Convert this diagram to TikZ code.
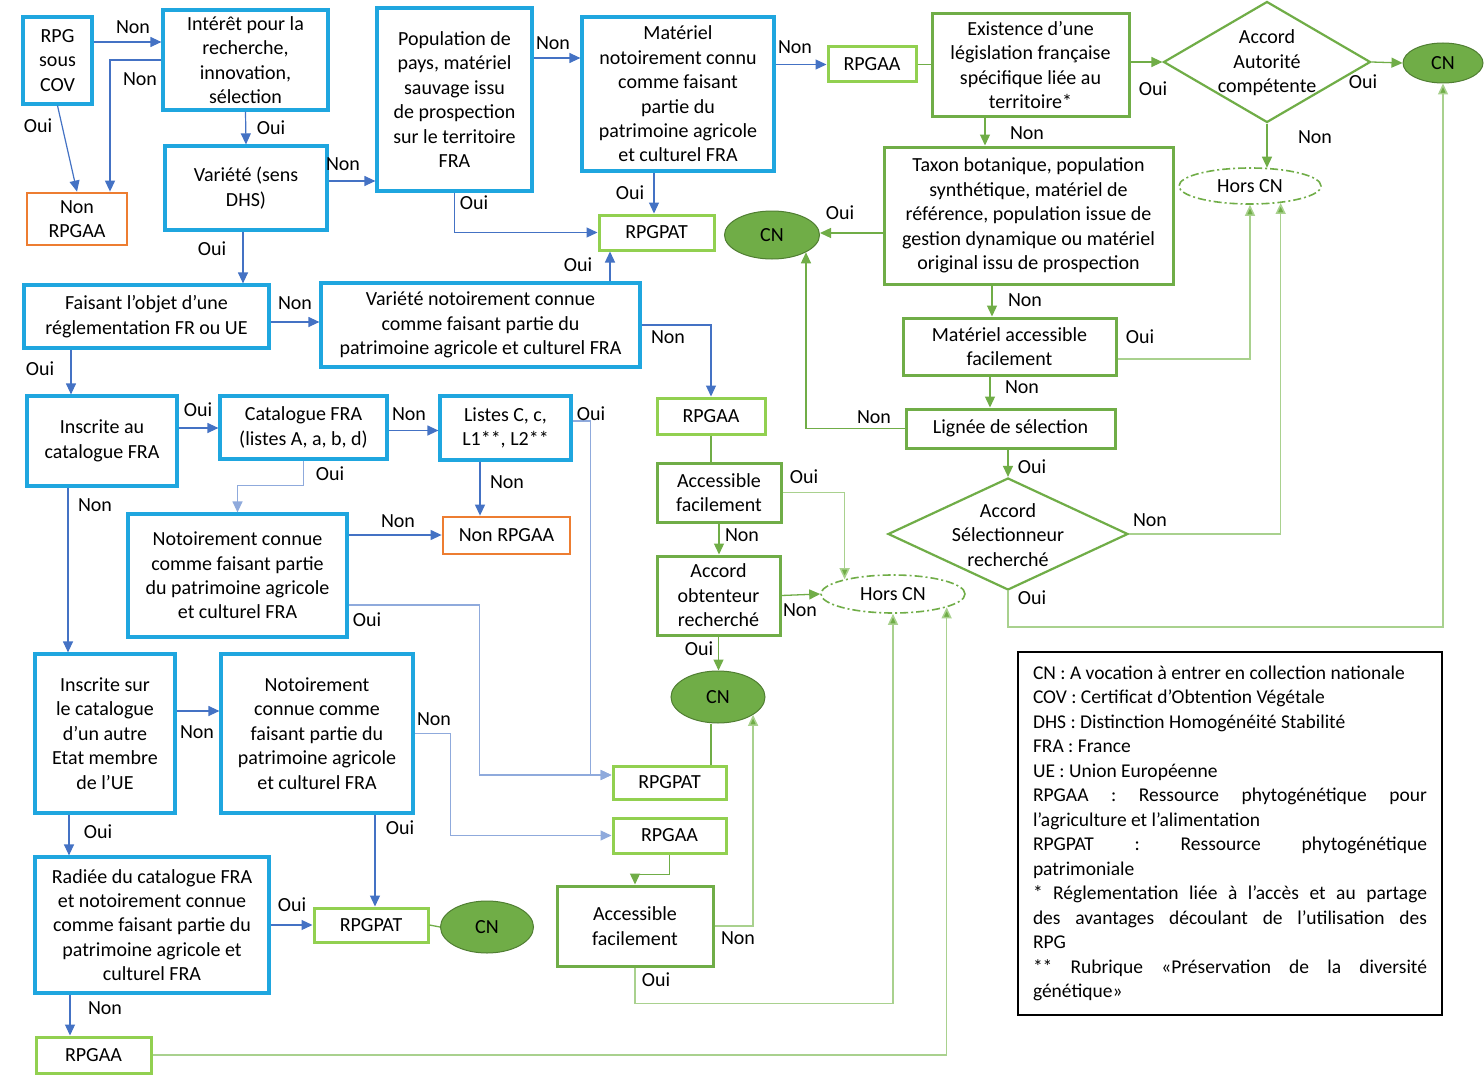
\documentclass[tikz,border=0pt]{standalone}
\usepackage{fontspec}
\setmainfont{Carlito}
\usetikzlibrary{arrows.meta,shapes.geometric}
\definecolor{cyanb}{HTML}{1FA6DF}
\definecolor{barrow}{HTML}{4472C4}
\definecolor{lbarrow}{HTML}{8FAADC}
\definecolor{orng}{HTML}{ED7D31}
\definecolor{gdark}{HTML}{70AD47}
\definecolor{glight}{HTML}{92D050}
\definecolor{gline}{HTML}{A9D18E}
\definecolor{gborder}{HTML}{507E32}
\newcommand{\jline}[1]{\makebox[394pt][l]{#1}}
\begin{document}
\begin{tikzpicture}[x=1pt,y=-1pt,
  base/.style={font=\fontsize{20}{24.4}\selectfont, align=center, inner sep=0pt, text=black},
  bbox/.style={base, rectangle, draw=cyanb, line width=3.2pt},
  obox/.style={base, rectangle, draw=orng, line width=2.8pt},
  gbox/.style={base, rectangle, draw=gdark, line width=3pt},
  lgbox/.style={base, rectangle, draw=glight, line width=3pt},
  cnell/.style={base, ellipse, draw=gborder, fill=gdark, line width=1pt},
  hors/.style={base, ellipse, draw=gdark, line width=1.6pt, dash pattern=on 8pt off 3pt on 2pt off 3pt},
  diam/.style={diamond, draw=gdark, line width=2.2pt, inner sep=0pt},
  lab/.style={base},
  tip/.style={-{Triangle[length=11pt,width=10pt]}},
  bar/.style={draw=barrow, line width=1.2pt, tip},
  lbar/.style={draw=lbarrow, line width=1.2pt, tip},
  gar/.style={draw=gdark, line width=1.3pt, tip},
  glar/.style={draw=gline, line width=1.5pt, -{Triangle[length=11pt,width=10pt,fill=gdark]}},
  gl/.style={draw=gdark, line width=1.3pt},
  leg/.style={font=\fontsize{19.5}{24.5}\selectfont, draw=black, line width=1.8pt, align=left, inner xsep=15pt, inner ysep=0pt, minimum width=424pt, minimum height=363pt}
]
\fill[white] (0,0) rectangle (1484,1081);
\useasboundingbox (0,0) rectangle (1484,1081);

% ---------- blue boxes ----------
\node[bbox, minimum width=69, minimum height=87] (cov) at (57.5,60.5) {RPG\\sous\\COV};
\node[bbox, minimum width=165, minimum height=100] (inte) at (245.5,60) {Intérêt pour la\\recherche,\\innovation,\\sélection};
\node[bbox, minimum width=162, minimum height=84] (var) at (246,188) {Variété (sens\\DHS)};
\node[bbox, minimum width=155, minimum height=183] (pop) at (454.5,99.5) {Population de\\pays, matériel\\sauvage issu\\de prospection\\sur le territoire\\FRA};
\node[bbox, minimum width=192, minimum height=154] (mat) at (678,94) {Matériel\\notoirement connu\\comme faisant\\partie du\\patrimoine agricole\\et culturel FRA};
\node[bbox, minimum width=245, minimum height=63] (fais) at (146.5,316.5) {Faisant l’objet d’une\\réglementation FR ou UE};
\node[bbox, minimum width=319, minimum height=84] (varn) at (480.5,325) {Variété notoirement connue\\comme faisant partie du\\patrimoine agricole et culturel FRA};
\node[bbox, minimum width=150, minimum height=90] (insc) at (102,441) {Inscrite au\\catalogue FRA};
\node[bbox, minimum width=167, minimum height=63] (cat) at (303.5,427.5) {Catalogue FRA\\(listes A, a, b, d)};
\node[bbox, minimum width=131, minimum height=64] (list) at (505.5,428) {Listes C, c,\\L1**, L2**};
\node[bbox, minimum width=219, minimum height=123] (not1) at (237.5,575.5) {Notoirement connue\\comme faisant partie\\du patrimoine agricole\\et culturel FRA};
\node[bbox, minimum width=140, minimum height=159] (insa) at (105,733.5) {Inscrite sur\\le catalogue\\d’un autre\\Etat membre\\de l’UE};
\node[bbox, minimum width=192, minimum height=159] (not2) at (317,733.5) {Notoirement\\connue comme\\faisant partie du\\patrimoine agricole\\et culturel FRA};
\node[bbox, minimum width=234, minimum height=136] (rad) at (152,925) {Radiée du catalogue FRA\\et notoirement connue\\comme faisant partie du\\patrimoine agricole et\\culturel FRA};

% ---------- orange boxes ----------
\node[obox, minimum width=100, minimum height=52] (nr1) at (77,219) {Non\\RPGAA};
\node[obox, minimum width=127, minimum height=37] (nr2) at (506.5,535.5) {Non RPGAA};

% ---------- light green boxes ----------
\node[lgbox, minimum width=88, minimum height=35] (ga1) at (872,64.5) {RPGAA};
\node[lgbox, minimum width=115, minimum height=35] (pat1) at (656.5,232.5) {RPGPAT};
\node[lgbox, minimum width=108, minimum height=36] (ga2) at (711,416) {RPGAA};
\node[lgbox, minimum width=113, minimum height=33] (pat2) at (669.5,782.5) {RPGPAT};
\node[lgbox, minimum width=113, minimum height=35] (ga3) at (669.5,835.5) {RPGAA};
\node[lgbox, minimum width=114, minimum height=34] (pat3) at (371,925) {RPGPAT};
\node[lgbox, minimum width=115, minimum height=36] (ga4) at (93.5,1055) {RPGAA};

% ---------- dark green boxes ----------
\node[gbox, minimum width=197, minimum height=102] (exi) at (1030.5,65) {Existence d’une\\législation française\\spécifique liée au\\territoire*};
\node[gbox, minimum width=289, minimum height=137] (tax) at (1028.5,215.5) {Taxon botanique, population\\synthétique, matériel de\\référence, population issue de\\gestion dynamique ou matériel\\original issu de prospection};
\node[gbox, minimum width=213, minimum height=57] (macc) at (1009.5,346.5) {Matériel accessible\\facilement};
\node[gbox, minimum width=209, minimum height=39] (lig) at (1010.5,428.5) {Lignée de sélection};
\node[gbox, minimum width=124, minimum height=59] (acf1) at (719,492.5) {Accessible\\facilement};
\node[gbox, minimum width=123, minimum height=79] (aob) at (718.5,595.5) {Accord\\obtenteur\\recherché};
\node[gbox, minimum width=156, minimum height=80] (acf2) at (635,926) {Accessible\\facilement};

% ---------- diamonds ----------
\node[diam, minimum width=207, minimum height=121] (aut) at (1267,62) {};
\node[base] (autt) at (1267,63) {Accord\\Autorité\\compétente};
\node[diam, minimum width=240, minimum height=112] (sel) at (1008,534) {};
\node[base] (selt) at (1008,535) {Accord\\Sélectionneur\\recherché};

% ---------- ellipses ----------
\node[cnell, minimum width=80, minimum height=40] (cn1) at (1443,63) {CN};
\node[cnell, minimum width=95, minimum height=48] (cn2) at (772,235) {CN};
\node[cnell, minimum width=94, minimum height=52] (cn3) at (718,697) {CN};
\node[cnell, minimum width=93, minimum height=52] (cn4) at (487,927) {CN};
\node[hors, minimum width=142, minimum height=36] (hc1) at (1250,186) {Hors CN};
\node[hors, minimum width=144, minimum height=38] (hc2) at (893,594) {Hors CN};

% ---------- legend ----------
\node[leg] (legend) at (1230,833.5) {CN : A vocation à entrer en collection nationale\\
COV : Certificat d’Obtention Végétale\\
DHS : Distinction Homogénéité Stabilité\\
FRA : France\\
UE : Union Européenne\\
\jline{RPGAA\hfill:\hfill Ressource\hfill phytogénétique\hfill pour}\\
l’agriculture et l’alimentation\\
\jline{RPGPAT\hfill:\hfill Ressource\hfill phytogénétique}\\
patrimoniale\\
\jline{*\hfill Réglementation\hfill liée\hfill à\hfill l’accès\hfill et\hfill au\hfill partage}\\
\jline{des\hfill avantages\hfill découlant\hfill de\hfill l’utilisation\hfill des}\\
RPG\\
\jline{**\hfill Rubrique\hfill «Préservation\hfill de\hfill la\hfill diversité}\\
génétique»};

% ---------- blue connectors ----------
\coordinate (a1) at ([yshift=18.5]cov.east);
\draw[bar] (a1) -- (a1 -| inte.west);
\coordinate (a2) at ([xshift=33]nr1.north);
\draw[bar] (inte.west) -| (a2);
\draw[bar] (cov.south) -- (nr1.north);
\draw[bar] (inte.south) -- (var.north);
\coordinate (a5) at ([yshift=7]var.east);
\draw[bar] (a5) -- (a5 -| pop.west);
\coordinate (a6) at ([xshift=-3]var.south);
\draw[bar] (a6) -- (a6 |- fais.north);
\draw[bar] (pop.south) |- (pat1.west);
\coordinate (a8) at ([yshift=41.5]pop.east);
\draw[bar] (a8) -- (a8 -| mat.west);
\coordinate (a9) at ([xshift=-2.5]pat1.north);
\draw[bar] (a9 |- mat.south) -- (a9);
\draw[bar] (mat.east |- ga1.west) -- (ga1.west);
\coordinate (a11) at ([yshift=-5.5]fais.east);
\draw[bar] (a11) -- (a11 -| varn.west);
\coordinate (a12) at ([xshift=129.5]varn.north);
\draw[bar] (a12) -- (a12 |- pat1.south);
\draw[bar] (varn.east) -| (ga2.north);
\coordinate (a14) at ([xshift=-75.5]fais.south);
\draw[bar] (a14) -- (a14 |- insc.north);
\coordinate (a15) at ([yshift=13]insc.east);
\draw[bar] (a15) -- (a15 -| cat.west);
\coordinate (a16) at ([yshift=-3]cat.east);
\draw[bar] (a16) -- (a16 -| list.west);
\coordinate (a17) at ([yshift=27]not1.north);
\draw[lbar] (cat.south) |- (a17) -- (not1.north);
\coordinate (a18) at ([xshift=-25.5]list.south);
\draw[bar] (a18) -- (a18 |- nr2.north);
\coordinate (a19s) at ([yshift=7]list.east);
\coordinate (a19e) at ([yshift=7.5]pat2.west);
\draw[lbar] (a19s) -| ([xshift=-21]a19e) -- (a19e);
\coordinate (a20) at ([yshift=40.5]not1.east);
\draw[bar] (a20) -- (a20 -| nr2.west);
\coordinate (a21) at ([yshift=-29.5]not1.east);
\draw[lbar] (a21) -| ([xshift=-132]a19e) -- (a19e);
\coordinate (a22) at ([xshift=-34]insc.south);
\draw[bar] (a22) -- (a22 |- insa.north);
\coordinate (a23) at ([yshift=22.5]insa.east);
\draw[bar] (a23) -- (a23 -| not2.west);
\coordinate (a24) at ([xshift=-36]insa.south);
\draw[bar] (a24) -- (a24 |- rad.north);
\draw[lbar] (not2.east) -| ([xshift=-161]ga3.west) -- (ga3.west);
\coordinate (a26) at ([xshift=4]pat3.north);
\draw[bar] (a26 |- not2.south) -- (a26);
\draw[bar] (rad.east) -- (pat3.west);
\coordinate (a28) at ([xshift=-82]rad.south);
\draw[bar] (a28) -- (a28 |- ga4.north);

% ---------- green connectors ----------
\draw[gl] (ga1.east) -- (exi.west |- ga1.east);
\draw[gar] (exi.east |- aut.west) -- (aut.west);
\draw[gar] (aut.east) -- (cn1.west);
\draw[gar] (aut.south) -- ([yshift=-0.5]aut.south |- hc1.north);
\coordinate (b5) at ([xshift=-45.5]exi.south);
\draw[gar] (b5) -- (b5 |- tax.north);
\coordinate (b6) at ([yshift=-17.5]tax.west);
\draw[gar] (b6) -- (b6 -| cn2.east);
\coordinate (b7) at ([xshift=-36.5]tax.south);
\draw[gar] (b7) -- (b7 |- macc.north);
\coordinate (b8) at ([yshift=-12.5]macc.east);
\draw[glar] (b8) -| (hc1.south);
\coordinate (b9) at ([xshift=-19.5]macc.south);
\draw[gar] (b9) -- (b9 |- lig.north);
\draw[gar] (lig.west) -| (cn2.-27);
\draw[gar] (sel.north |- lig.south) -- (sel.north);
\draw[glar] (sel.east) -| (hc1.-29.5);
\coordinate (b13) at ([yshift=-36]sel.south);
\draw[glar] (sel.south) -- (b13) -| (cn1.south);
\draw[gl] (ga2.south) -- (ga2.south |- acf1.north);
\draw[glar] (acf1.east) -| (hc2.163.5);
\draw[gar] (acf1.south) -- (acf1.south |- aob.north);
\draw[gar] (aob.east) -- (hc2.west);
\draw[gar] (aob.south) -- (aob.south |- cn3.north);
\coordinate (b19) at ([xshift=41.5]pat2.north);
\draw[gl] (b19) -- (b19 |- cn3.south);
\coordinate (b20) at ([yshift=-20]ga3.south);
\draw[gar] (ga3.south) -- (b20) -| (acf2.north);
\draw[glar] (acf2.east) -| (cn3.-27.8);
\coordinate (b22) at ([yshift=-36]acf2.south);
\draw[glar] (acf2.south) -- (b22) -| (hc2.south);
\draw[glar] (ga4.east) -| (hc2.-14.1);
\draw[gl] (pat3.east) -- (cn4.west);

% ---------- labels ----------
\node[lab] (t1) at (133,27) {Non};
\node[lab] (t2) at (140,79) {Non};
\node[lab] (t3) at (38,126) {Oui};
\node[lab] (t4) at (271,128) {Oui};
\node[lab] (t5) at (343,164) {Non};
\node[lab] (t6) at (212,249) {Oui};
\node[lab] (t7) at (474,203) {Oui};
\node[lab] (t8) at (553,43) {Non};
\node[lab] (t9) at (630,193) {Oui};
\node[lab] (t10) at (795,47) {Non};
\node[lab] (t11) at (295,303) {Non};
\node[lab] (t12) at (578,265) {Oui};
\node[lab] (t13) at (668,337) {Non};
\node[lab] (t14) at (40,369) {Oui};
\node[lab] (t15) at (198,410) {Oui};
\node[lab] (t16) at (409,414) {Non};
\node[lab] (t17) at (330,474) {Oui};
\node[lab] (t18) at (507,482) {Non};
\node[lab] (t19) at (591,414) {Oui};
\node[lab] (t20) at (398,521) {Non};
\node[lab] (t21) at (367,620) {Oui};
\node[lab] (t22) at (95,505) {Non};
\node[lab] (t23) at (197,732) {Non};
\node[lab] (t24) at (98,832) {Oui};
\node[lab] (t25) at (434,719) {Non};
\node[lab] (t26) at (400,828) {Oui};
\node[lab] (t27) at (292,905) {Oui};
\node[lab] (t28) at (105,1008) {Non};
\node[lab] (t29) at (1153,89) {Oui};
\node[lab] (t30) at (1363,82) {Oui};
\node[lab] (t31) at (1315,137) {Non};
\node[lab] (t32) at (1027,133) {Non};
\node[lab] (t33) at (840,213) {Oui};
\node[lab] (t34) at (1025,300) {Non};
\node[lab] (t35) at (1140,337) {Oui};
\node[lab] (t36) at (1022,387) {Non};
\node[lab] (t37) at (874,417) {Non};
\node[lab] (t38) at (1032,467) {Oui};
\node[lab] (t39) at (1150,520) {Non};
\node[lab] (t40) at (1032,598) {Oui};
\node[lab] (t41) at (804,477) {Oui};
\node[lab] (t42) at (742,535) {Non};
\node[lab] (t43) at (800,610) {Non};
\node[lab] (t44) at (699,649) {Oui};
\node[lab] (t45) at (738,938) {Non};
\node[lab] (t46) at (656,980) {Oui};
\end{tikzpicture}
\end{document}
